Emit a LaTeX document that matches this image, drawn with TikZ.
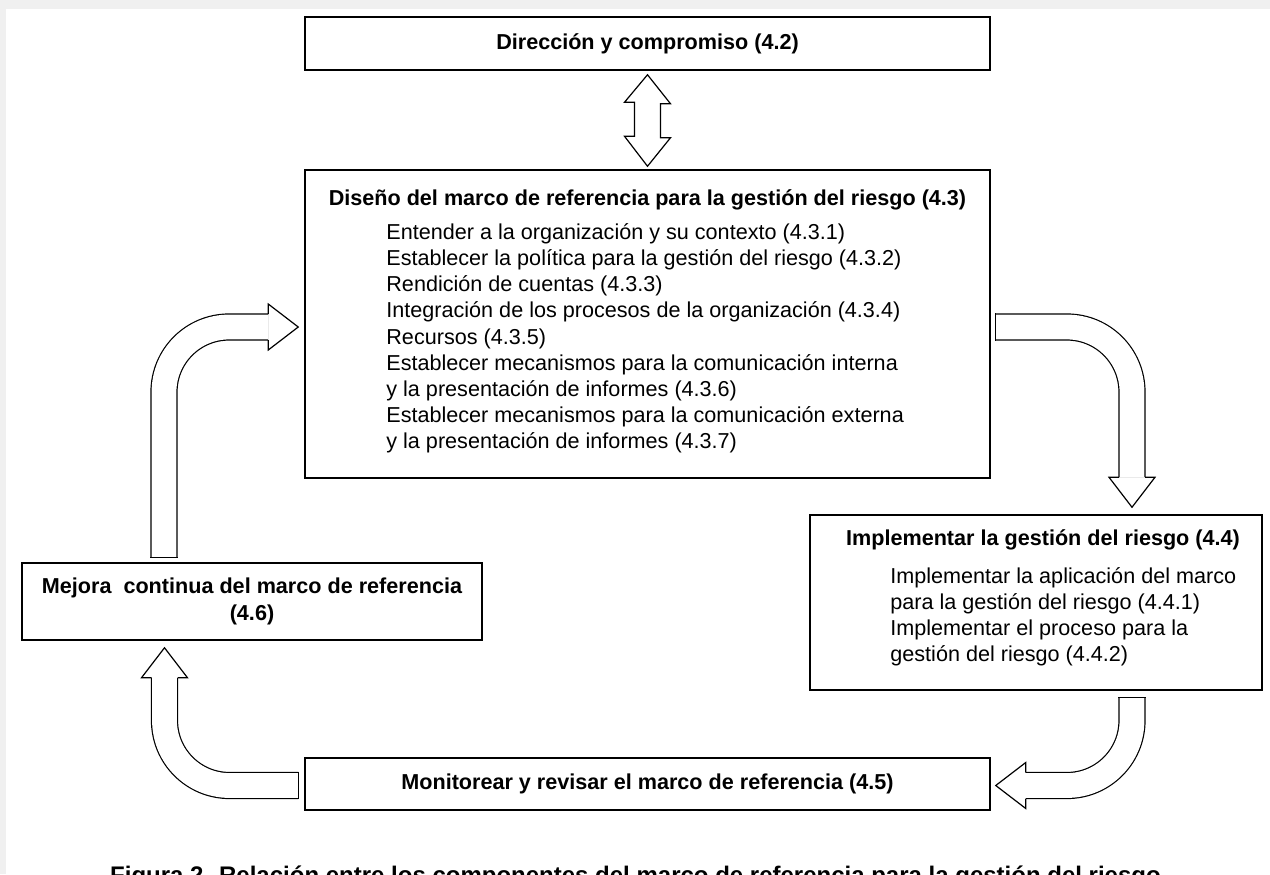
\documentclass[tikz,border=0pt]{standalone}
\usepackage{fontspec}
\setmainfont{Liberation Sans}
\usetikzlibrary{positioning,calc}
\definecolor{bggray}{RGB}{240,240,240}

\begin{document}
\begin{tikzpicture}[
    x=0.5pt, y=-0.5pt,
    font=\fontsize{10.8}{13.1}\selectfont,
    box/.style={draw=black, line width=0.75pt, inner sep=0pt, align=center},
    ttl/.style={font=\fontsize{10.8}{13.1}\selectfont\bfseries, inner sep=0pt},
    items/.style={align=left, inner sep=0pt, anchor=north west},
    shaft/.style={draw=black, line width=0.6pt, double=white, double distance=12.4pt,
                  rounded corners=32.5pt},
    tip/.style={draw=black, fill=white, line width=0.6pt, line join=miter},
    tail/.style={draw=black, line width=0.6pt},
  ]
    \useasboundingbox (0,0) rectangle (1270,874);
    \fill[bggray] (0,0) rectangle (1270,874);
    \fill[white] (6,9) rectangle (1270,874);

    % boxes
    \node[box, ttl, minimum width=342.5pt, minimum height=26.5pt] (dir) at (647.5,43.5)
      {Dirección y compromiso (4.2)};

    \node[box, minimum width=342.5pt, minimum height=154pt] (disenio) at (647.5,324) {};
    \node[ttl, anchor=base] (disenioT) at (647.5,205)
      {Diseño del marco de referencia para la gestión del riesgo (4.3)};
    \node[items] (disenioL) at (386,223)
      {Entender a la organización y su contexto (4.3.1)\\
       Establecer la política para la gestión del riesgo (4.3.2)\\
       Rendición de cuentas (4.3.3)\\
       Integración de los procesos de la organización (4.3.4)\\
       Recursos (4.3.5)\\
       Establecer mecanismos para la comunicación interna\\
       y la presentación de informes (4.3.6)\\
       Establecer mecanismos para la comunicación externa\\
       y la presentación de informes (4.3.7)};

    \node[box, minimum width=226pt, minimum height=87.5pt] (impl) at (1036,602.5) {};
    \node[ttl, anchor=base] (implT) at (1043,545.5)
      {Implementar la gestión del riesgo (4.4)};
    \node[items] (implL) at (890,567)
      {Implementar la aplicación del marco\\
       para la gestión del riesgo (4.4.1)\\
       Implementar el proceso para la\\
       gestión del riesgo (4.4.2)};

    \node[box, ttl, minimum width=230pt, minimum height=38.5pt] (mejora) at (252,601.5)
      {Mejora\ \ continua del marco de referencia\\(4.6)};
    \node[box, ttl, minimum width=342.5pt, minimum height=26pt] (monit) at (647.5,784)
      {Monitorear y revisar el marco de referencia (4.5)};

    \node[ttl, anchor=base, font=\fontsize{12}{14}\selectfont\bfseries] (cap) at (635.5,883)
      {Figura 2. Relación entre los componentes del marco de referencia para la gestión del riesgo};

    % double arrow
    \coordinate (d1) at ($(dir.south)+(0,4)$);
    \coordinate (d2) at ($(disenio.north)+(0,-3)$);
    \draw[tip] (d1) -- ++(23,29) -- ++(-10,0) -- ++(0,34) -- ++(10,0) -- (d2)
      -- ++(-23,-30) -- ++(10,0) -- ++(0,-34) -- ++(-10,0) -- cycle;

    % bent arrows
    \coordinate (a1s) at ($(disenio.east)+(5,3)$);
    \coordinate (a1e) at ($(impl.north)+(96,-37)$);
    \draw[shaft] (a1s) -| (a1e);
    \draw[tail] ($(a1s)+(0,-13.6)$) -- ($(a1s)+(0,13.6)$);
    \filldraw[tip, shift={(a1e)}] (-13,0) -- (-23,0) -- (0,30) -- (23,0) -- (13,0);

    \coordinate (a2s) at ($(impl.south)+(96,7)$);
    \coordinate (a2e) at ($(monit.east)+(35,1.5)$);
    \draw[shaft] (a2s) |- (a2e);
    \draw[tail] ($(a2s)+(-13.6,0)$) -- ($(a2s)+(13.6,0)$);
    \filldraw[tip, shift={(a2e)}, rotate=-90] (-13,0) -- (-23,0) -- (0,30) -- (23,0) -- (13,0);

    \coordinate (a3s) at ($(monit.west)+(-6,1.5)$);
    \coordinate (a3e) at ($(mejora.south)+(-87.5,37)$);
    \draw[shaft] (a3s) -| (a3e);
    \draw[tail] ($(a3s)+(0,-13.6)$) -- ($(a3s)+(0,13.6)$);
    \filldraw[tip, shift={(a3e)}, rotate=180] (-13,0) -- (-23,0) -- (0,30) -- (23,0) -- (13,0);

    \coordinate (a4s) at ($(mejora.north)+(-88,-5)$);
    \coordinate (a4e) at ($(disenio.west)+(-36,3)$);
    \draw[shaft] (a4s) |- (a4e);
    \draw[tail] ($(a4s)+(-13.6,0)$) -- ($(a4s)+(13.6,0)$);
    \filldraw[tip, shift={(a4e)}, rotate=90] (-13,0) -- (-23,0) -- (0,30) -- (23,0) -- (13,0);
  \end{tikzpicture}
\end{document}
